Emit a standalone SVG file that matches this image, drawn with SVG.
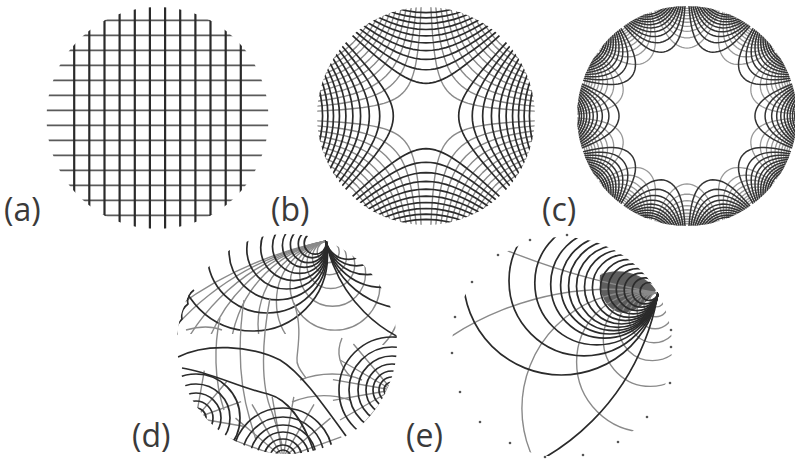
<svg xmlns="http://www.w3.org/2000/svg" width="795" height="461" viewBox="0 0 795 461">
<style>
.av{fill:none;stroke:#2a2a2a;stroke-width:2.2}
.ah{fill:none;stroke:#5a5a5a;stroke-width:1.8}
.dk{fill:none;stroke:#2b2b2b;stroke-width:1.7;stroke-linejoin:round}
.gr{fill:none;stroke:#8a8a8a;stroke-width:1.4;stroke-linejoin:round}
.dkc{fill:none;stroke:#333;stroke-width:1.5;stroke-linejoin:round}
.grc{fill:none;stroke:#999;stroke-width:1.3;stroke-linejoin:round}
.lbl{font-family:"Open Sans","Liberation Sans",sans-serif;font-size:32px;fill:#3a3a3a}
.dot{fill:#555}
</style>
<defs>
<path id="hyp" fill="none" vector-effect="non-scaling-stroke" d="M3.4177,-3.2682 L3.1075,-2.9422 2.8283,-2.6456 2.5775,-2.3756 2.3524,-2.1293 2.1509,-1.9043 1.9709,-1.6984 1.8107,-1.5095 1.6685,-1.3356 1.5431,-1.1752 1.4331,-1.0265 1.3374,-0.8881 1.2552,-0.7586 1.1855,-0.6367 1.1276,-0.5211 1.0811,-0.4108 1.0453,-0.3045 1.0201,-0.2013 1.005,-0.1002 1,0 1.005,0.1002 1.0201,0.2013 1.0453,0.3045 1.0811,0.4108 1.1276,0.5211 1.1855,0.6367 1.2552,0.7586 1.3374,0.8881 1.4331,1.0265 1.5431,1.1752 1.6685,1.3356 1.8107,1.5095 1.9709,1.6984 2.1509,1.9043 2.3524,2.1293 2.5775,2.3756 2.8283,2.6456 3.1075,2.9422 3.4177,3.2682"/>
<path id="p5" fill="none" vector-effect="non-scaling-stroke" d="M1.9739,-0.63 L1.7215,-0.5395 1.5579,-0.4763 1.4408,-0.4268 1.3643,-0.3912 1.3087,-0.3629 1.2657,-0.3392 1.2025,-0.2998 1.1575,-0.2672 1.1236,-0.2388 1.0971,-0.2133 1.0758,-0.1897 1.0445,-0.1468 1.0236,-0.1076 1.0101,-0.0706 1.0025,-0.035 1,0 1.0025,0.035 1.0101,0.0706 1.0236,0.1076 1.0445,0.1468 1.0758,0.1897 1.0971,0.2133 1.1236,0.2388 1.1575,0.2672 1.2025,0.2998 1.2657,0.3392 1.3087,0.3629 1.3643,0.3912 1.4408,0.4268 1.5579,0.4763 1.7215,0.5395 1.9739,0.63"/>
<g id="b10">
<use href="#hyp" transform="scale(32.7)"/><use href="#hyp" transform="scale(46.25)"/><use href="#hyp" transform="scale(56.64)"/><use href="#hyp" transform="scale(65.4)"/><use href="#hyp" transform="scale(73.12)"/><use href="#hyp" transform="scale(80.09)"/><use href="#hyp" transform="scale(86.51)"/><use href="#hyp" transform="scale(92.49)"/><use href="#hyp" transform="scale(98.1)"/><use href="#hyp" transform="scale(103.41)"/>
</g>
<g id="c10">
<use href="#p5" transform="scale(67.96)"/><use href="#p5" transform="scale(78.07)"/><use href="#p5" transform="scale(84.66)"/><use href="#p5" transform="scale(89.67)"/><use href="#p5" transform="scale(93.76)"/><use href="#p5" transform="scale(97.24)"/><use href="#p5" transform="scale(100.29)"/><use href="#p5" transform="scale(103)"/><use href="#p5" transform="scale(105.46)"/><use href="#p5" transform="scale(107.7)"/>
</g>
<clipPath id="ca"><circle cx="157.5" cy="118" r="111"/></clipPath>
<clipPath id="cb"><circle cx="0" cy="0" r="109"/></clipPath>
<clipPath id="cc"><circle cx="0" cy="0" r="110"/></clipPath>
<clipPath id="cd"><circle cx="287" cy="344" r="110"/></clipPath>
<clipPath id="cdT"><polygon points="170,226 425,226 425,345 330,345 318,334 170,334"/></clipPath>
<clipPath id="ce"><circle cx="562" cy="347" r="110"/></clipPath>
</defs>
<rect width="795" height="461" fill="#fff"/>

<g id="panel-a" clip-path="url(#ca)">
<path class="ah" d="M40 20.3H275M40 35.3H275M40 50.3H275M40 65.3H275M40 80.3H275M40 95.3H275M40 110.3H275M40 125.3H275M40 140.3H275M40 155.3H275M40 170.3H275M40 185.3H275M40 200.3H275M40 215.3H275"/>
<path class="av" d="M74.2 0V240M89.3 0V240M104.5 0V240M119.6 0V240M134.8 0V240M149.9 0V240M165.1 0V240M180.2 0V240M195.4 0V240M210.5 0V240M225.7 0V240M240.8 0V240"/>
</g>

<g id="panel-b" transform="translate(426,116)">
<g clip-path="url(#cb)">
<g class="gr"><use href="#b10" transform="rotate(45)"/><use href="#b10" transform="rotate(135)"/><use href="#b10" transform="rotate(225)"/><use href="#b10" transform="rotate(315)"/></g>
<g class="dk"><use href="#b10"/><use href="#b10" transform="rotate(90)"/><use href="#b10" transform="rotate(180)"/><use href="#b10" transform="rotate(270)"/></g>
</g>
</g>

<g id="panel-c" transform="translate(687,116)">
<g clip-path="url(#cc)">
<g class="grc"><use href="#c10" transform="rotate(18)"/><use href="#c10" transform="rotate(54)"/><use href="#c10" transform="rotate(90)"/><use href="#c10" transform="rotate(126)"/><use href="#c10" transform="rotate(162)"/><use href="#c10" transform="rotate(198)"/><use href="#c10" transform="rotate(234)"/><use href="#c10" transform="rotate(270)"/><use href="#c10" transform="rotate(306)"/><use href="#c10" transform="rotate(342)"/></g>
<g class="dkc"><use href="#c10"/><use href="#c10" transform="rotate(36)"/><use href="#c10" transform="rotate(72)"/><use href="#c10" transform="rotate(108)"/><use href="#c10" transform="rotate(144)"/><use href="#c10" transform="rotate(180)"/><use href="#c10" transform="rotate(216)"/><use href="#c10" transform="rotate(252)"/><use href="#c10" transform="rotate(288)"/><use href="#c10" transform="rotate(324)"/></g>
</g>
</g>

<g id="panel-d">
<g clip-path="url(#cd)">
<g clip-path="url(#cdT)">
<g class="gr">
<circle cx="402" cy="613.4" r="380"/><circle cx="382" cy="515.4" r="280"/><circle cx="368" cy="446.8" r="210"/><circle cx="358" cy="397.8" r="160"/><circle cx="350" cy="358.6" r="120"/><circle cx="343" cy="324.3" r="85"/><circle cx="338.4" cy="301.8" r="62"/><circle cx="335" cy="285.1" r="45"/><circle cx="332.6" cy="273.3" r="33"/><circle cx="330.8" cy="264.5" r="24"/><circle cx="329.4" cy="257.7" r="17"/><circle cx="328.2" cy="251.8" r="11"/>
</g>
<g class="dk">
<circle cx="252.5" cy="256" r="75"/><circle cx="267.2" cy="253" r="60"/><circle cx="278" cy="250.8" r="49"/><circle cx="286.8" cy="249" r="40"/><circle cx="293.7" cy="247.6" r="33"/><circle cx="299.5" cy="246.4" r="27"/><circle cx="304.4" cy="245.4" r="22"/><circle cx="308.4" cy="244.6" r="18"/><circle cx="312.3" cy="243.8" r="14"/><circle cx="315.2" cy="243.2" r="11"/>
<circle cx="463.2" cy="213" r="140"/><circle cx="409.3" cy="224" r="85"/><circle cx="382.8" cy="229.4" r="58"/><circle cx="367.2" cy="232.6" r="42"/><circle cx="356.4" cy="234.8" r="31"/><circle cx="348.5" cy="236.4" r="23"/>
</g>
</g>
<g class="gr">
<path d="M283 458L224.7 436.8M283 458L235.5 418.1M283 458L252 404.3M283 458L272.2 396.9M283 458L293.8 396.9M283 458L314 404.3M283 458L330.5 418.1M283 458L341.3 436.8"/>
<path d="M392 390L353.4 436M392 390L340 420M392 390L332.9 400.4M392 390L332.9 379.6M392 390L340 360M392 390L353.4 344"/>
<path d="M196 418L204.3 370.7M196 418L226.9 381.2M196 418L241.1 401.6M196 418L243.3 426.3"/>
<path d="M220 318C214 345 214 380 224 410"/>
<path d="M244 300C238 340 238 380 250 420L256 440"/>
<path d="M270 298C262 340 260 385 272 412C276 425 280 435 282 445"/>
<path d="M294 303C302 325 298 345 297 358C296 366 302 372 306 378"/>
<path d="M342 338C336 352 338 365 352 378"/>
<path d="M300 380C320 372 345 372 362 380"/>
<path d="M292 402C312 394 332 394 350 400"/>
<path d="M186 330C200 326 212 326 222 330"/>
</g>
<g class="dk">
<circle cx="283" cy="458" r="8"/><circle cx="283" cy="458" r="13"/><circle cx="283" cy="458" r="19"/><circle cx="283" cy="458" r="26"/><circle cx="283" cy="458" r="33"/><circle cx="283" cy="458" r="41"/><circle cx="283" cy="458" r="50"/>
<circle cx="392" cy="390" r="8"/><circle cx="392" cy="390" r="13"/><circle cx="392" cy="390" r="19"/><circle cx="392" cy="390" r="26"/><circle cx="392" cy="390" r="34"/><circle cx="392" cy="390" r="43"/><circle cx="392" cy="390" r="53"/>
<circle cx="196" cy="418" r="10"/><circle cx="196" cy="418" r="17"/><circle cx="196" cy="418" r="25"/><circle cx="196" cy="418" r="34"/><circle cx="196" cy="418" r="44"/>
<path d="M178 357C205 343 250 345 280 360C300 372 320 400 346 436"/>
<path d="M182 368C210 372 240 388 268 394C290 400 305 425 314 452"/>
<path d="M194 290q-8 6 -6 14q-8 6 -6 15q-7 7 -5 15q-6 7 -4 14"/>
</g>
</g>
</g>

<g id="panel-e">
<g class="dot">
<circle cx="671" cy="330" r="1.3"/><circle cx="671" cy="347" r="1.3"/><circle cx="670" cy="383" r="1.3"/><circle cx="647" cy="417" r="1.3"/><circle cx="618" cy="442" r="1.3"/><circle cx="583" cy="455" r="1.3"/><circle cx="545" cy="457" r="1.3"/><circle cx="510" cy="443" r="1.3"/><circle cx="480" cy="422" r="1.3"/><circle cx="460" cy="392" r="1.3"/><circle cx="452" cy="353" r="1.3"/><circle cx="455" cy="317" r="1.3"/><circle cx="472" cy="282" r="1.3"/><circle cx="498" cy="255" r="1.3"/><circle cx="530" cy="240" r="1.3"/><circle cx="567" cy="235" r="1.3"/>
</g>
<g clip-path="url(#ce)">
<path d="M600 275C617 267 643 272 656 290C648 302 636 312 622 313C608 311 598 296 600 275Z" fill="#5e5e5e"/>
<g class="gr">
<circle cx="610.4" cy="581.2" r="292"/><circle cx="638.9" cy="408.5" r="117"/><circle cx="646.6" cy="362.1" r="70"/><circle cx="650.3" cy="339.4" r="47"/><circle cx="652.5" cy="326.6" r="34"/><circle cx="653.9" cy="317.7" r="25"/><circle cx="655.1" cy="310.8" r="18"/><circle cx="656" cy="304.8" r="12"/><circle cx="656.9" cy="299.9" r="7"/>
<circle cx="775.4" cy="-417.6" r="720"/>
</g>
<g class="dk">
<circle cx="426.1" cy="254.7" r="235"/><circle cx="561.3" cy="277" r="98"/><circle cx="584" cy="280.8" r="75"/><circle cx="596.8" cy="282.9" r="62"/><circle cx="604.7" cy="284.2" r="54"/><circle cx="609.6" cy="285" r="49"/><circle cx="613.6" cy="285.7" r="45"/><circle cx="617.5" cy="286.3" r="41"/><circle cx="621.5" cy="287" r="37"/><circle cx="625.4" cy="287.6" r="33"/><circle cx="629.4" cy="288.3" r="29"/><circle cx="633.3" cy="288.9" r="25"/><circle cx="637.3" cy="289.6" r="21"/><circle cx="641.2" cy="290.2" r="17"/><circle cx="645.2" cy="290.9" r="13"/><circle cx="649.1" cy="291.5" r="9"/>
</g>
</g>
</g>

<g id="labels">
<text class="lbl" x="4" y="221">(a)</text>
<text class="lbl" x="271" y="221">(b)</text>
<text class="lbl" x="542" y="221">(c)</text>
<text class="lbl" x="132" y="447">(d)</text>
<text class="lbl" x="406" y="447">(e)</text>
</g>
</svg>
